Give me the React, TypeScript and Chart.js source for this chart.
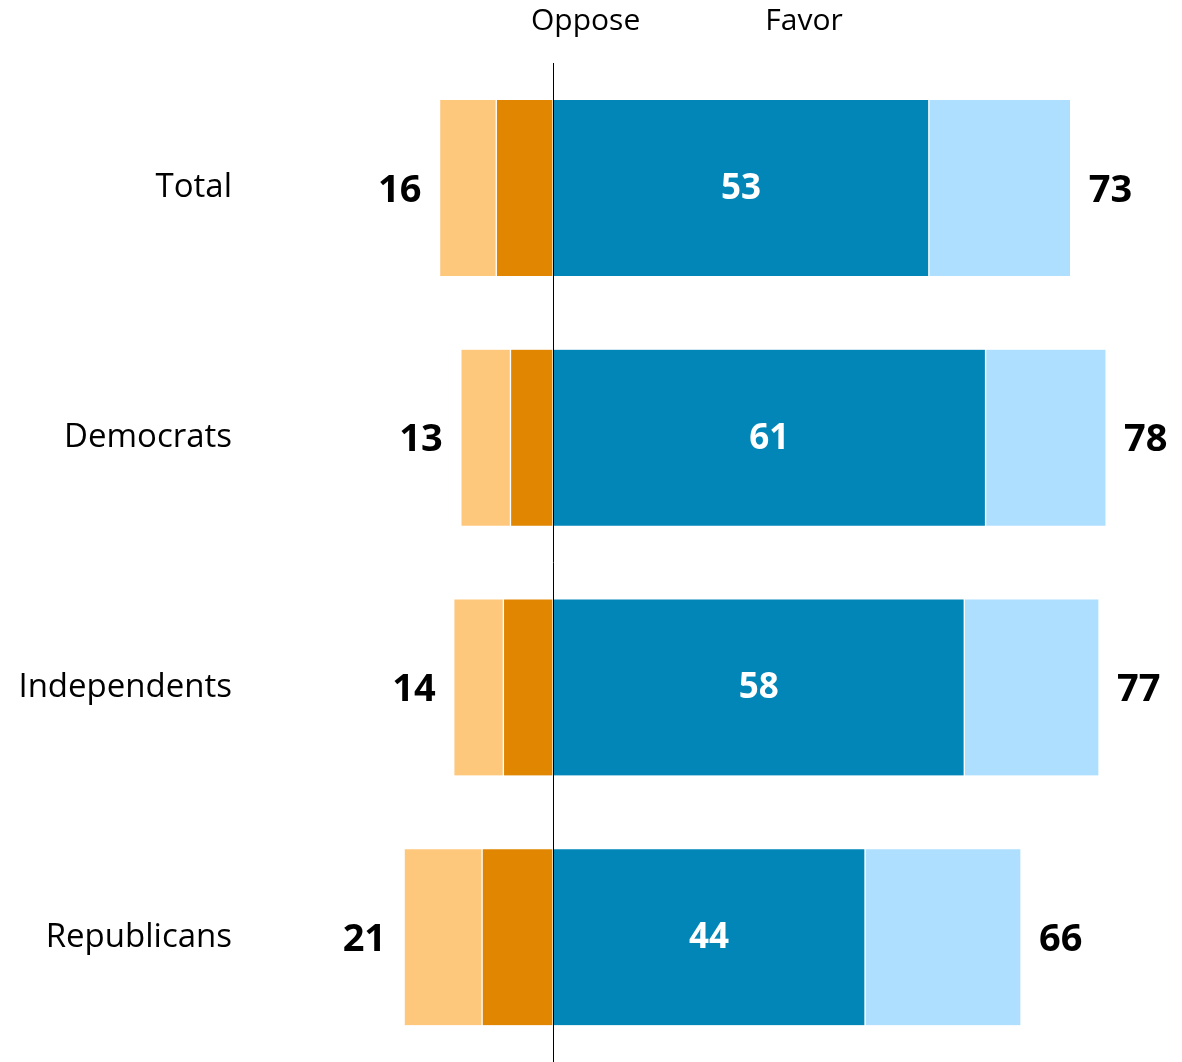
import React, { useEffect, useRef } from "react";
import { Chart, registerables } from "chart.js";

Chart.register(...registerables);

const categories = ["Total", "Democrats", "Independents", "Republicans"];
const opposeStrongly = [8, 6, 7, 10];
const opposeSomewhat = [8, 7, 7, 11];
const favorStrongly = [53, 61, 58, 44];
const favorSomewhat = [20, 17, 19, 22];
const opposeTotal = [16, 13, 14, 21];
const favorTotal = [73, 78, 77, 66];
const headerLabels = ["Oppose", "Favor"];
const headerPositions = [4.6, 35.4];

const FONT = '"Open Sans", "Noto Sans", sans-serif';

const labelPlugin = {
  id: "labelPlugin",
  afterDatasetsDraw(chart: any) {
    const ctx = chart.ctx;
    const xScale = chart.scales.x;
    const area = chart.chartArea;
    const mStrong = chart.getDatasetMeta(2);
    const mSomeFav = chart.getDatasetMeta(3);
    const mSomeOpp = chart.getDatasetMeta(1);
    ctx.save();
    // zero line
    const x0 = Math.round(xScale.getPixelForValue(0)) + 0.5;
    ctx.strokeStyle = "#000000";
    ctx.lineWidth = 1;
    ctx.beginPath();
    ctx.moveTo(x0, area.top);
    ctx.lineTo(x0, chart.height);
    ctx.stroke();

    ctx.textBaseline = "middle";
    categories.forEach((_, i) => {
      const s = mStrong.data[i];
      ctx.fillStyle = "#ffffff";
      ctx.font = `bold 35px ${FONT}`;
      ctx.textAlign = "center";
      ctx.fillText(String(favorStrongly[i]), (s.x + s.base) / 2, s.y + 1);
      const f = mSomeFav.data[i];
      ctx.fillStyle = "#000000";
      ctx.font = `bold 38px ${FONT}`;
      ctx.textAlign = "left";
      ctx.fillText(String(favorTotal[i]), f.x + 18, f.y + 3);
      const o = mSomeOpp.data[i];
      ctx.textAlign = "right";
      ctx.fillText(String(opposeTotal[i]), o.x - 18, o.y + 3);
    });
    ctx.font = `30px ${FONT}`;
    ctx.fillStyle = "#000000";
    ctx.textAlign = "center";
    headerLabels.forEach((t, i) => {
      ctx.fillText(t, xScale.getPixelForValue(headerPositions[i]), 21);
    });
    ctx.restore();
  },
};

export default function App() {
  const ref = useRef<HTMLCanvasElement | null>(null);
  useEffect(() => {
    if (!ref.current) return;
    const border = { left: 1, right: 1, top: 0, bottom: 0 };
    const common = {
      borderColor: "#ffffff",
      borderWidth: border,
      borderSkipped: false,
      barThickness: 176,
      stack: "s",
    };
    const chart = new Chart(ref.current, {
      type: "bar",
      data: {
        labels: categories,
        datasets: [
          { label: "Strongly oppose", data: opposeStrongly.map((v) => -v), backgroundColor: "#E08600", ...common },
          { label: "Somewhat oppose", data: opposeSomewhat.map((v) => -v), backgroundColor: "#FDC77C", ...common },
          { label: "Strongly favor", data: favorStrongly, backgroundColor: "#0286B8", ...common },
          { label: "Somewhat favor", data: favorSomewhat, backgroundColor: "#AEDFFE", ...common },
        ] as any,
      },
      options: {
        indexAxis: "y",
        animation: false,
        responsive: false,
        maintainAspectRatio: false,
        devicePixelRatio: 1,
        layout: { padding: { top: 63, left: 0, right: 0, bottom: -2 } },
        plugins: { legend: { display: false }, tooltip: { enabled: false }, title: { display: false } },
        scales: {
          x: {
            display: false,
            stacked: true,
            min: -44,
            max: 88.7,
          },
          y: {
            stacked: true,
            grid: { display: false, drawTicks: false },
            border: { display: false },
            ticks: { color: "#000000", font: { family: FONT, size: 33 }, padding: 9 },
            afterFit: (scale: any) => {
              scale.width = 241;
              scale.paddingTop = 0;
              scale.paddingBottom = 0;
            },
          },
        },
      } as any,
      plugins: [labelPlugin],
    });
    return () => chart.destroy();
  }, []);
  return (
    <div style={{ position: "fixed", left: 0, top: 0, width: 1182, height: 1062, background: "#fff" }}>
      <canvas ref={ref} width={1182} height={1062} style={{ display: "block", width: 1182, height: 1062 }} />
    </div>
  );
}
